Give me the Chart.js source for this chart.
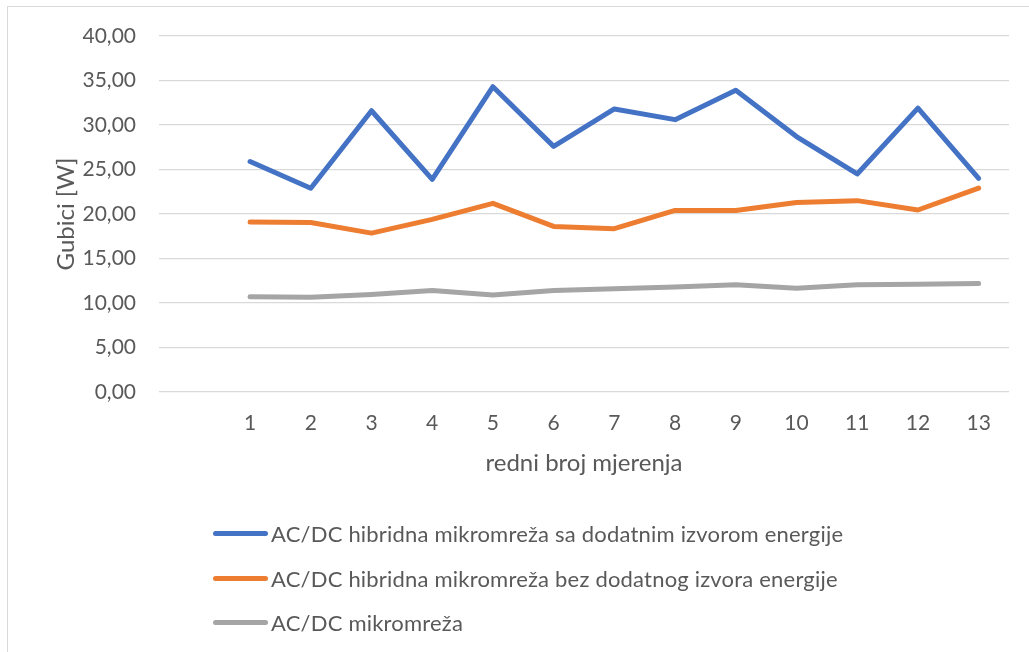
<!DOCTYPE html>
<html>
<head>
<meta charset="utf-8">
<script src="https://cdn.jsdelivr.net/npm/chart.js@4.4.1/dist/chart.umd.min.js"></script>
<style>
  html, body { margin: 0; padding: 0; background: #fff; overflow: hidden; }
  #wrap { position: relative; width: 1029px; height: 652px; overflow: hidden; font-family: Lato, "Open Sans", sans-serif; }
  #frame { position: absolute; left: 7px; top: 6px; width: 1100px; height: 800px; border: 1.5px solid #d9d9d9; box-sizing: border-box; }
  #c { position: absolute; left: 0; top: 0; }
  #legend { position: absolute; left: 213px; top: 511px; }
  .item { display: flex; align-items: center; height: 44.8px; color: #595959; font-size: 22px; letter-spacing: 0.2px; }
  .swatch { width: 55px; height: 5px; border-radius: 3px; margin-right: 3px; }
</style>
</head>
<body>
<div id="wrap">
  <div id="frame"></div>
  <canvas id="c" width="1029" height="652"></canvas>
  <div id="legend"></div>
</div>
<script>
const categories = ['1','2','3','4','5','6','7','8','9','10','11','12','13'];
const seriesNames = [
  'AC/DC hibridna mikromreža sa dodatnim izvorom energije',
  'AC/DC hibridna mikromreža bez dodatnog izvora energije',
  'AC/DC mikromreža'
];
const withSource = [25.9, 22.9, 31.6, 23.9, 34.3, 27.6, 31.8, 30.6, 33.9, 28.7, 24.5, 31.9, 24.0];
const withoutSource = [19.1, 19.05, 17.85, 19.4, 21.2, 18.6, 18.35, 20.4, 20.4, 21.3, 21.5, 20.45, 22.9];
const acdc = [10.7, 10.65, 10.95, 11.4, 10.9, 11.4, 11.6, 11.8, 12.05, 11.65, 12.05, 12.1, 12.2];
const colors = ['#4472C4', '#ED7D31', '#A5A5A5'];
const yAxisTitle = 'Gubici [W]';
const xAxisTitle = 'redni broj mjerenja';

const labels = [''].concat(categories);
const allSeries = [withSource, withoutSource, acdc];
const textColor = '#595959';
const font = { family: 'Lato', size: 21 };
const titleFont = { family: 'Lato', size: 24 };

const datasets = allSeries.map((vals, i) => ({
  label: seriesNames[i],
  data: [null].concat(vals),
  borderColor: colors[i],
  backgroundColor: colors[i],
  borderWidth: 5,
  pointRadius: 0,
  pointHoverRadius: 0,
  tension: 0,
  borderCapStyle: 'round',
  borderJoinStyle: 'round',
  spanGaps: false
}));

new Chart(document.getElementById('c'), {
  type: 'line',
  data: { labels, datasets },
  options: {
    responsive: false,
    animation: false,
    layout: { padding: { top: 36, right: 20, left: 0, bottom: 160 } },
    plugins: { legend: { display: false }, tooltip: { enabled: false } },
    scales: {
      x: {
        type: 'category',
        offset: true,
        grid: { display: false, drawTicks: false },
        border: { display: false },
        ticks: { color: textColor, font, padding: 19, maxRotation: 0, autoSkip: false },
        title: { display: true, text: xAxisTitle, color: textColor, font: titleFont, padding: { top: 0, bottom: 14 } },
        afterFit: (s) => { s.height = 100; }
      },
      y: {
        min: 0, max: 40,
        grid: { color: '#d9d9d9', lineWidth: 1.3, drawTicks: false },
        border: { display: false },
        ticks: {
          stepSize: 5, color: textColor, font, padding: 23,
          callback: (v) => v.toFixed(2).replace('.', ',')
        },
        title: { display: true, text: yAxisTitle, color: textColor, font: titleFont, padding: { top: 52, bottom: 0 } },
        afterFit: (s) => { s.width = 159; }
      }
    }
  }
});

const legend = document.getElementById('legend');
seriesNames.forEach((name, i) => {
  const row = document.createElement('div');
  row.className = 'item';
  const sw = document.createElement('div');
  sw.className = 'swatch';
  sw.style.background = colors[i];
  const tx = document.createElement('span');
  tx.textContent = name;
  row.appendChild(sw);
  row.appendChild(tx);
  legend.appendChild(row);
});
</script>
</body>
</html>
